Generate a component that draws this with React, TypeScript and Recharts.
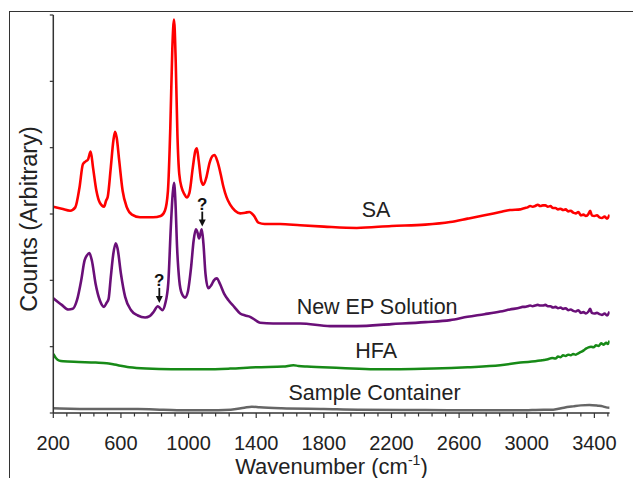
import React from 'react';
import { LineChart, Line, XAxis, YAxis, ReferenceDot } from 'recharts';

// Wavenumber (cm-1), arbitrary counts
const saPoints: [number, number][] = [
  [200, 3.11], [250, 3.08], [300, 3.05], [330, 3.1], [355, 3.4], [375, 3.75], [390, 3.79], [405, 3.82],
  [421, 3.94], [435, 3.7], [455, 3.35], [475, 3.17], [500, 3.11], [512, 3.2], [522, 3.26], [540, 3.7],
  [555, 4.1], [565, 4.24], [575, 4.15], [590, 3.8], [610, 3.35], [635, 3.1], [665, 2.99], [713, 2.95],
  [790, 2.95], [835, 2.97], [860, 3.05], [878, 3.35], [892, 4.3], [904, 5.5], [914, 5.93], [924, 5.3],
  [934, 4.2], [945, 3.6], [960, 3.39], [975, 3.3], [989, 3.25], [1005, 3.32], [1025, 3.7], [1040, 3.95],
  [1049, 3.99], [1060, 3.8], [1075, 3.5], [1088, 3.44], [1105, 3.55], [1125, 3.78], [1140, 3.87],
  [1153, 3.89], [1170, 3.8], [1190, 3.6], [1206, 3.41], [1225, 3.25], [1246, 3.14], [1275, 3.05],
  [1305, 3.01], [1335, 3.02], [1360, 3.03], [1385, 2.98], [1413, 2.87], [1450, 2.85], [1541, 2.85],
  [1660, 2.83], [1800, 2.81], [1995, 2.79], [2200, 2.82], [2400, 2.84], [2547, 2.88], [2650, 2.93],
  [2750, 2.98], [2843, 3.03], [2900, 3.06], [2962, 3.07], [2975, 3.08], [2990, 3.09], [3005, 3.1],
  [3020, 3.12], [3035, 3.11], [3050, 3.12], [3065, 3.14], [3080, 3.12], [3095, 3.13], [3110, 3.13],
  [3125, 3.11], [3140, 3.12], [3155, 3.09], [3170, 3.09], [3185, 3.07], [3200, 3.08], [3215, 3.06],
  [3230, 3.07], [3245, 3.04], [3260, 3.05], [3275, 3.02], [3290, 3.01], [3305, 3.03], [3320, 2.98],
  [3335, 2.99], [3350, 2.97], [3365, 3.0], [3375, 3.05], [3385, 2.98], [3400, 2.97], [3415, 2.98],
  [3430, 2.95], [3445, 2.94], [3460, 2.96], [3475, 2.93], [3490, 2.99],
];

const epPoints: [number, number][] = [
  [200, 1.73], [250, 1.63], [290, 1.56], [315, 1.57], [340, 1.7], [365, 2.0], [385, 2.3], [400, 2.38],
  [413, 2.41], [428, 2.3], [450, 1.95], [475, 1.7], [500, 1.6], [515, 1.66], [527, 1.72], [540, 2.05],
  [555, 2.4], [569, 2.56], [580, 2.48], [600, 2.1], [625, 1.75], [660, 1.55], [700, 1.47], [743, 1.44],
  [770, 1.46], [795, 1.53], [818, 1.61], [832, 1.58], [845, 1.55], [862, 1.65], [880, 1.96], [895, 2.8],
  [906, 3.3], [914, 3.47], [922, 3.2], [932, 2.5], [945, 2.0], [960, 1.8], [979, 1.74], [995, 1.82],
  [1015, 2.2], [1030, 2.6], [1043, 2.77], [1053, 2.72], [1062, 2.63], [1070, 2.7], [1078, 2.77],
  [1088, 2.55], [1100, 2.1], [1117, 1.88], [1135, 1.93], [1150, 2.0], [1167, 2.03], [1185, 1.95],
  [1210, 1.8], [1236, 1.7], [1270, 1.6], [1305, 1.5], [1335, 1.47], [1364, 1.45], [1395, 1.4],
  [1423, 1.36], [1500, 1.35], [1660, 1.35], [1837, 1.31], [1995, 1.31], [2200, 1.34], [2400, 1.37],
  [2547, 1.4], [2650, 1.45], [2750, 1.49], [2843, 1.53], [2900, 1.56], [2962, 1.59], [2975, 1.6],
  [2990, 1.6], [3005, 1.61], [3020, 1.62], [3035, 1.61], [3050, 1.62], [3065, 1.63], [3080, 1.62],
  [3095, 1.62], [3110, 1.63], [3125, 1.61], [3140, 1.61], [3155, 1.59], [3170, 1.6], [3185, 1.58],
  [3200, 1.59], [3215, 1.57], [3230, 1.58], [3245, 1.55], [3260, 1.56], [3275, 1.54], [3290, 1.53],
  [3305, 1.55], [3320, 1.51], [3335, 1.52], [3350, 1.5], [3365, 1.53], [3375, 1.57], [3385, 1.51],
  [3400, 1.5], [3415, 1.51], [3430, 1.49], [3445, 1.48], [3460, 1.5], [3475, 1.47], [3490, 1.53],
];

const hfaPoints: [number, number][] = [
  [200, 0.89], [215, 0.83], [235, 0.79], [259, 0.78], [350, 0.77], [450, 0.76], [516, 0.75], [560, 0.73],
  [650, 0.69], [750, 0.67], [900, 0.66], [1100, 0.66], [1246, 0.67], [1400, 0.69], [1560, 0.7],
  [1620, 0.72], [1650, 0.71], [1700, 0.7], [1900, 0.68], [2100, 0.66], [2251, 0.66], [2450, 0.67],
  [2650, 0.69], [2843, 0.72], [2962, 0.76], [3080, 0.79], [3100, 0.8], [3125, 0.81], [3150, 0.83],
  [3170, 0.82], [3185, 0.85], [3200, 0.84], [3215, 0.87], [3230, 0.86], [3245, 0.88], [3260, 0.87],
  [3275, 0.89], [3290, 0.88], [3305, 0.9], [3320, 0.92], [3335, 0.94], [3350, 0.97], [3365, 0.99],
  [3380, 1.0], [3395, 0.99], [3410, 1.02], [3425, 1.01], [3440, 1.05], [3455, 1.03], [3470, 1.06],
  [3480, 1.04], [3490, 1.09],
];

const containerPoints: [number, number][] = [
  [200, 0.07], [300, 0.065], [500, 0.06], [700, 0.06], [850, 0.05], [1000, 0.04], [1100, 0.04],
  [1250, 0.05], [1330, 0.08], [1374, 0.095], [1420, 0.085], [1550, 0.07], [1800, 0.06], [2000, 0.05],
  [2400, 0.045], [2800, 0.04], [2962, 0.04], [3100, 0.05], [3157, 0.05], [3220, 0.08], [3275, 0.1],
  [3320, 0.115], [3370, 0.12], [3420, 0.11], [3450, 0.1], [3470, 0.085], [3490, 0.08],
];

const xTicks: number[] = Array.from({ length: 42 }, (_, i) => 200 + i * 80);
const xLabelTicks: number[] = [200, 600, 1000, 1400, 1800, 2200, 2600, 3000, 3400];
const yTicks: number[] = [0, 1, 2, 3, 4, 5, 6];

const seriesLabels = [
  { text: 'SA', wn: 2109, v: 2.96 },
  { text: 'New EP Solution', wn: 2115, v: 1.5 },
  { text: 'HFA', wn: 2109, v: 0.83 },
  { text: 'Sample Container', wn: 2100, v: 0.19 },
];

const questionMarks = [
  { wn: 827, v: 1.66 },
  { wn: 1081, v: 2.81 },
];

const toRows = (pts: [number, number][]) => pts.map(([wn, v]) => ({ wn, v }));

const FONT = '"Liberation Sans", Arial, Helvetica, sans-serif';

const XTick = (props: any) => {
  const { x, y, payload } = props;
  const major = xLabelTicks.includes(payload.value);
  return (
    <g>
      <line x1={x} x2={x} y1={y} y2={y + (major ? 5 : 3.5)} stroke="#333" strokeWidth={1.2} />
      {major && (
        <text x={x} y={y + 37} textAnchor="middle" fontSize={20} fill="#222" fontFamily={FONT}>
          {payload.value}
        </text>
      )}
    </g>
  );
};

const XTitle = (props: any) => {
  const vb = props.viewBox || {};
  const cx = vb.x + vb.width / 2;
  return (
    <text x={cx} y={473.5} textAnchor="middle" fontSize={22} fill="#222" fontFamily={FONT}>
      Wavenumber (cm
      <tspan fontSize={14} dy={-9}>-1</tspan>
      <tspan dy={9}>)</tspan>
    </text>
  );
};

const YTitle = () => (
  <text
    x={0}
    y={0}
    transform="translate(36.5,219) rotate(-90)"
    textAnchor="middle"
    fontSize={23.5}
    fill="#222"
    fontFamily={FONT}
  >
    Counts (Arbitrary)
  </text>
);

const makeLabelShape = (text: string) => (props: any) => (
  <text x={props.cx} y={props.cy} textAnchor="middle" fontSize={21.5} fill="#222" fontFamily={FONT}>
    {text}
  </text>
);

const QShape = (props: any) => {
  const { cx, cy } = props;
  return (
    <g>
      <text x={cx} y={cy - 16.5} textAnchor="middle" fontSize={17} fontWeight="bold" fill="#111" fontFamily={FONT}>
        ?
      </text>
      <line x1={cx} x2={cx} y1={cy - 15} y2={cy - 5} stroke="#111" strokeWidth={1.8} />
      <path d={`M${cx - 3.5},${cy - 7} L${cx + 3.5},${cy - 7} L${cx},${cy} Z`} fill="#111" />
    </g>
  );
};

export default function App() {
  return (
    <div style={{ position: 'absolute', left: 0, top: 0, width: 633, height: 478, overflow: 'hidden', background: '#fff' }}>
      <div
        style={{
          position: 'absolute',
          left: 8.5,
          top: 10.5,
          width: 800,
          height: 800,
          borderTop: '1.3px solid #333',
          borderLeft: '1.3px solid #333',
        }}
      />
      <div style={{ position: 'absolute', left: 0, top: 0 }}>
        <LineChart width={633} height={478} margin={{ top: 15, right: 23.4, left: 0, bottom: 15 }}>
          <XAxis
            dataKey="wn"
            type="number"
            domain={[200, 3490]}
            ticks={xTicks}
            interval={0}
            allowDataOverflow
            tickSize={0}
            tickMargin={0}
            tickLine={false}
            tick={<XTick />}
            height={50}
            axisLine={{ stroke: '#333', strokeWidth: 1.5 }}
            label={<XTitle />}
          />
          <YAxis
            type="number"
            domain={[0, 6]}
            ticks={yTicks}
            width={53.3}
            tickSize={3.5}
            tickFormatter={() => ''}
            tickLine={{ stroke: '#333', strokeWidth: 1.2 }}
            axisLine={{ stroke: '#333', strokeWidth: 1.5 }}
            label={<YTitle />}
          />
          <Line data={toRows(containerPoints)} dataKey="v" type="monotone" stroke="#666666" strokeWidth={2.5} dot={false} isAnimationActive={false} />
          <Line data={toRows(hfaPoints)} dataKey="v" type="monotone" stroke="#178a17" strokeWidth={2.5} dot={false} isAnimationActive={false} />
          <Line data={toRows(epPoints)} dataKey="v" type="monotone" stroke="#6a0f78" strokeWidth={2.6} dot={false} isAnimationActive={false} />
          <Line data={toRows(saPoints)} dataKey="v" type="monotone" stroke="#ff0000" strokeWidth={2.6} dot={false} isAnimationActive={false} />
          {seriesLabels.map((l) => (
            <ReferenceDot key={l.text} x={l.wn} y={l.v} r={0} shape={makeLabelShape(l.text)} />
          ))}
          {questionMarks.map((q) => (
            <ReferenceDot key={q.wn} x={q.wn} y={q.v} r={0} shape={QShape} />
          ))}
        </LineChart>
      </div>
    </div>
  );
}
